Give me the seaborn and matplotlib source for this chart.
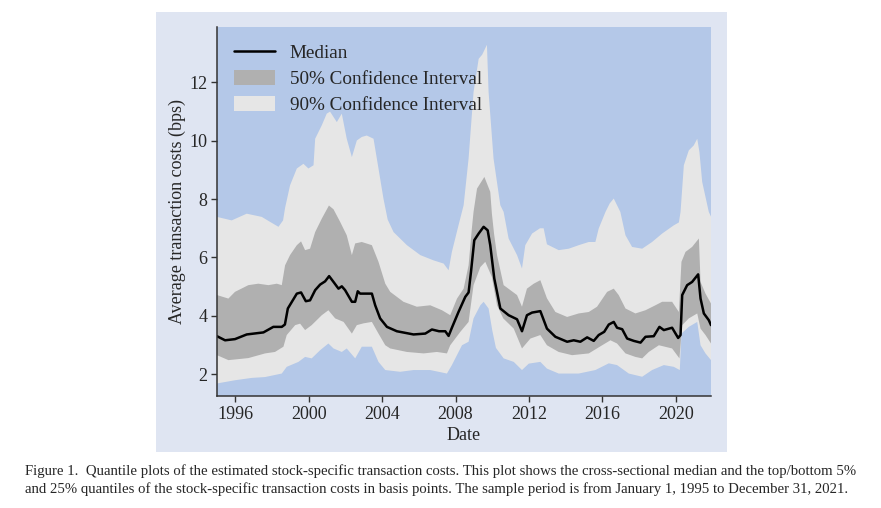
import numpy as np
import seaborn as sns
import matplotlib.pyplot as plt
from matplotlib.lines import Line2D
from matplotlib.patches import Patch, Rectangle

# median of the cross-section (decimal years, bps)
med_years = [1995.0, 1995.44, 1995.98, 1996.62, 1997.53, 1998.07, 1998.53, 1998.70, 1998.86, 1999.35,
             1999.58, 1999.84, 2000.07, 2000.35, 2000.62, 2000.89, 2001.11, 2001.35, 2001.62, 2001.80,
             2001.98, 2002.35, 2002.53, 2002.67, 2002.80, 2003.44, 2003.62, 2003.89, 2004.26, 2004.80,
             2005.71, 2006.35, 2006.71, 2007.10, 2007.44, 2007.62, 2007.80, 2008.16, 2008.53, 2008.71,
             2008.84, 2009.02, 2009.26, 2009.53, 2009.75, 2009.89, 2010.11, 2010.44, 2010.89, 2011.35,
             2011.62, 2011.89, 2012.17, 2012.62, 2012.98, 2013.44, 2014.08, 2014.44, 2014.80, 2015.17,
             2015.53, 2015.80, 2016.10, 2016.35, 2016.62, 2016.80, 2017.08, 2017.35, 2017.71, 2018.08,
             2018.35, 2018.80, 2019.11, 2019.35, 2019.80, 2020.13, 2020.26, 2020.35, 2020.62, 2020.89,
             2021.22, 2021.35, 2021.53, 2021.80, 2021.92]
med_vals = [3.30, 3.16, 3.20, 3.36, 3.43, 3.62, 3.62, 3.70, 4.25, 4.76,
            4.80, 4.50, 4.53, 4.88, 5.07, 5.18, 5.36, 5.16, 4.93, 5.01,
            4.88, 4.48, 4.48, 4.84, 4.76, 4.76, 4.36, 3.91, 3.62, 3.47,
            3.36, 3.39, 3.53, 3.47, 3.47, 3.31, 3.59, 4.13, 4.65, 4.80,
            5.50, 6.59, 6.82, 7.05, 6.93, 6.42, 5.28, 4.25, 4.02, 3.88,
            3.47, 4.02, 4.11, 4.16, 3.56, 3.28, 3.11, 3.16, 3.11, 3.26,
            3.14, 3.34, 3.45, 3.70, 3.79, 3.59, 3.54, 3.22, 3.14, 3.08,
            3.28, 3.30, 3.62, 3.51, 3.59, 3.24, 3.34, 4.71, 5.05, 5.16,
            5.42, 4.59, 4.08, 3.85, 3.68]

# 75% quantile
q75_years = [1995.0, 1995.62, 1995.98, 1996.71, 1997.25, 1997.80, 1998.26, 1998.53, 1998.71, 1998.98,
             1999.35, 1999.58, 1999.80, 2000.07, 2000.35, 2000.71, 2001.10, 2001.35, 2001.71, 2002.07,
             2002.35, 2002.53, 2002.89, 2003.44, 2003.80, 2004.17, 2004.44, 2005.16, 2005.89, 2006.62,
             2007.26, 2007.71, 2008.08, 2008.44, 2008.71, 2008.89, 2008.98, 2009.17, 2009.57, 2009.89,
             2009.98, 2010.10, 2010.26, 2010.62, 2011.35, 2011.62, 2011.89, 2012.26, 2012.62, 2012.98,
             2013.44, 2014.08, 2014.71, 2015.26, 2015.71, 2016.26, 2016.62, 2016.89, 2017.26, 2017.80,
             2018.35, 2018.89, 2019.26, 2019.80, 2020.17, 2020.31, 2020.53, 2020.89, 2021.26, 2021.35,
             2021.62, 2021.92]
q75_vals = [4.71, 4.59, 4.82, 5.05, 5.10, 5.05, 5.10, 5.05, 5.73, 6.08,
            6.42, 6.55, 6.25, 6.30, 6.87, 7.33, 7.78, 7.65, 7.22, 6.76,
            6.08, 6.48, 6.53, 6.42, 5.85, 5.10, 4.82, 4.48, 4.31, 4.36,
            4.19, 4.02, 4.59, 4.93, 5.73, 7.00, 7.56, 8.36, 8.76, 8.25,
            7.50, 6.80, 6.08, 5.05, 4.71, 4.31, 4.93, 5.10, 5.22, 4.60,
            4.13, 3.96, 4.08, 4.13, 4.31, 4.82, 4.93, 4.71, 4.25, 4.08,
            4.19, 4.36, 4.48, 4.48, 4.13, 5.85, 6.19, 6.36, 6.65, 5.16,
            4.76, 4.42]

# 25% quantile
q25_years = [1995.0, 1995.62, 1996.10, 1996.71, 1997.62, 1998.16, 1998.62, 1998.80, 1999.26, 1999.53,
             1999.80, 2000.16, 2000.71, 2001.07, 2001.44, 2001.90, 2002.35, 2002.62, 2002.98, 2003.44,
             2003.80, 2004.17, 2004.44, 2005.35, 2006.26, 2006.98, 2007.53, 2007.71, 2008.26, 2008.71,
             2008.98, 2009.35, 2009.62, 2009.98, 2010.26, 2010.60, 2011.17, 2011.62, 2012.08, 2012.62,
             2012.98, 2013.62, 2014.35, 2015.26, 2015.99, 2016.44, 2016.80, 2017.26, 2017.80, 2018.17,
             2018.53, 2019.08, 2019.80, 2020.20, 2020.35, 2020.71, 2021.17, 2021.35, 2021.62, 2021.92]
q25_vals = [2.65, 2.48, 2.51, 2.55, 2.71, 2.76, 2.94, 3.34, 3.68, 3.73,
            3.51, 3.68, 4.02, 4.19, 3.91, 3.79, 3.39, 3.68, 3.74, 3.79,
            3.39, 2.99, 2.88, 2.76, 2.71, 2.76, 2.71, 2.99, 3.45, 3.79,
            5.05, 5.67, 5.85, 5.33, 4.36, 3.91, 3.56, 2.88, 3.22, 3.34,
            2.99, 2.76, 2.65, 2.71, 2.99, 3.16, 3.05, 2.71, 2.59, 2.54,
            2.76, 2.99, 2.88, 2.54, 3.68, 3.91, 4.08, 3.56, 3.34, 3.05]

# 95% quantile
q95_years = [1995.0, 1995.80, 1996.62, 1997.44, 1997.89, 1998.35, 1998.60, 1998.71, 1998.98, 1999.35,
             1999.71, 1999.98, 2000.26, 2000.35, 2000.71, 2000.98, 2001.16, 2001.53, 2001.80, 2002.07,
             2002.35, 2002.62, 2002.89, 2003.16, 2003.53, 2003.80, 2004.07, 2004.30, 2004.62, 2005.35,
             2006.08, 2006.80, 2007.35, 2007.62, 2007.80, 2008.16, 2008.44, 2008.71, 2008.98, 2009.26,
             2009.45, 2009.71, 2009.80, 2010.07, 2010.44, 2010.62, 2010.89, 2011.35, 2011.62, 2011.80,
             2012.17, 2012.60, 2012.80, 2012.98, 2013.62, 2014.17, 2014.71, 2015.26, 2015.62, 2015.80,
             2016.17, 2016.40, 2016.62, 2016.98, 2017.26, 2017.62, 2018.17, 2018.71, 2019.26, 2019.89,
             2020.17, 2020.26, 2020.44, 2020.71, 2020.98, 2021.17, 2021.29, 2021.44, 2021.80, 2021.92]
q95_vals = [7.39, 7.27, 7.50, 7.39, 7.22, 7.05, 7.27, 7.70, 8.47, 9.05,
            9.21, 9.05, 9.16, 10.07, 10.53, 10.93, 11.00, 10.64, 10.93, 10.07,
            9.44, 10.01, 10.13, 10.18, 10.07, 9.05, 8.02, 7.30, 6.87, 6.42,
            6.08, 5.90, 5.79, 5.56, 6.19, 7.10, 7.79, 9.39, 11.67, 12.81,
            12.95, 13.29, 11.67, 9.39, 7.79, 7.56, 6.65, 6.08, 5.62, 6.42,
            6.82, 7.00, 7.00, 6.45, 6.25, 6.30, 6.42, 6.53, 6.53, 6.99,
            7.56, 7.85, 8.02, 7.56, 6.76, 6.36, 6.30, 6.53, 6.82, 7.10,
            7.20, 7.56, 9.16, 9.67, 9.84, 10.07, 9.61, 8.59, 7.56, 7.40]

# 5% quantile
q05_years = [1995.0, 1995.98, 1996.89, 1997.62, 1998.53, 1998.80, 1999.44, 1999.80, 2000.16, 2000.62,
             2001.07, 2001.35, 2001.80, 2002.07, 2002.53, 2002.89, 2003.44, 2003.80, 2004.17, 2004.98,
             2005.71, 2006.62, 2007.53, 2007.80, 2008.35, 2008.71, 2008.98, 2009.35, 2009.53, 2009.80,
             2010.00, 2010.20, 2010.62, 2011.17, 2011.62, 2011.99, 2012.62, 2012.98, 2013.62, 2014.71,
             2015.62, 2016.35, 2016.80, 2017.44, 2018.17, 2018.71, 2019.35, 2019.89, 2020.22, 2020.31,
             2020.71, 2021.17, 2021.35, 2021.62, 2021.92]
q05_vals = [1.68, 1.79, 1.87, 1.90, 2.02, 2.25, 2.42, 2.59, 2.54, 2.82,
            3.05, 2.88, 2.76, 2.88, 2.54, 2.94, 2.94, 2.42, 2.14, 2.08,
            2.14, 2.14, 2.02, 2.31, 2.99, 3.11, 3.91, 4.36, 4.48, 4.25,
            3.50, 2.90, 2.54, 2.42, 2.14, 2.36, 2.42, 2.19, 2.02, 2.02,
            2.14, 2.37, 2.31, 2.02, 1.91, 2.14, 2.31, 2.25, 2.14, 3.39,
            3.62, 3.79, 2.99, 2.71, 2.48]

year_ticks = [1996, 2000, 2004, 2008, 2012, 2016, 2020]
caption = ("Figure 1.  Quantile plots of the estimated stock-specific transaction costs. This plot shows the "
           "cross-sectional median and the top/bottom 5%\n"
           "and 25% quantiles of the stock-specific transaction costs in basis points. The sample period is "
           "from January 1, 1995 to December 31, 2021.")

sns.set_theme(style="ticks")
plt.rcParams["font.family"] = ["Liberation Serif", "DejaVu Serif"]

BLUE = "#b4c8e8"
PANEL = "#dfe5f2"
LIGHT = "#e6e6e6"
DARK = "#b0b0b0"

fig = plt.figure(figsize=(8.81, 5.08), dpi=100)
fig.patches.append(Rectangle((156 / 881, 1 - 452 / 508), (727 - 156) / 881, (452 - 12) / 508,
                             transform=fig.transFigure, facecolor=PANEL, edgecolor="none", zorder=-5))
ax = fig.add_axes([217 / 881, 1 - 396 / 508, (711 - 217) / 881, (396 - 27) / 508])
ax.set_zorder(2)
ax.set_facecolor(BLUE)


def band(ax, x_lo, lo, x_hi, hi, color):
    xs = np.r_[np.asarray(x_hi), np.asarray(x_lo)[::-1]]
    ys = np.r_[np.asarray(hi), np.asarray(lo)[::-1]]
    ax.fill(xs, ys, color=color, lw=0)


band(ax, q05_years, q05_vals, q95_years, q95_vals, LIGHT)
band(ax, q25_years, q25_vals, q75_years, q75_vals, DARK)
sns.lineplot(x=med_years, y=med_vals, ax=ax, color="black", lw=1.8)

ax.set_xlim(1995.0, 2021.92)
ax.set_ylim(1.25, 13.9)
ax.set_xticks(year_ticks)
ax.set_xticklabels([str(y) for y in year_ticks])
ax.set_yticks([2, 4, 6, 8, 10, 12])
ax.tick_params(labelsize=13, length=4, width=1, color="#333333", pad=3)
for side in ["top", "right"]:
    ax.spines[side].set_visible(False)
for side in ["left", "bottom"]:
    ax.spines[side].set_color("#333333")
    ax.spines[side].set_linewidth(1.1)
ax.set_xlabel("Date", fontsize=13, labelpad=3)
ax.set_ylabel("Average transaction costs (bps)", fontsize=13, labelpad=2)

handles = [Line2D([], [], color="black", lw=1.8),
           Patch(facecolor=DARK, edgecolor="none"),
           Patch(facecolor=LIGHT, edgecolor="none")]
labels = ["Median", "50% Confidence Interval", "90% Confidence Interval"]
ax.legend(handles, labels, loc="upper left", frameon=False, fontsize=13.8,
          handlelength=2.1, handleheight=0.77, handletextpad=0.8, labelspacing=0.43,
          borderaxespad=0.5, bbox_to_anchor=(0.0, 1.0))

fig.text(25 / 881, 1 - 480 / 508, caption, fontsize=10.6, ha="left", va="center", linespacing=1.35)

fig.savefig("out.png", dpi=100)
